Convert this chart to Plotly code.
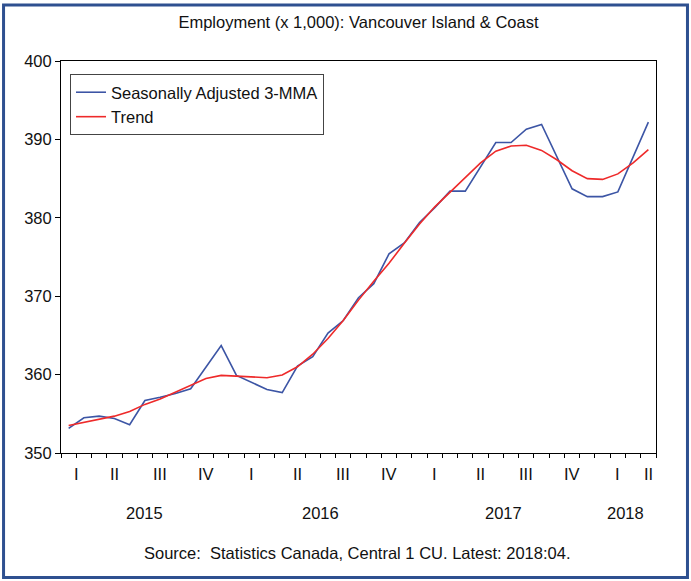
import plotly.graph_objects as go

# ---- data (monthly, 2015:02 .. 2018:04) ----
years = [2015]*11 + [2016]*12 + [2017]*12 + [2018]*4
months = list(range(2, 13)) + list(range(1, 13)) + list(range(1, 13)) + list(range(1, 5))

sa_3mma = [353.15, 354.5, 354.7, 354.4, 353.6, 356.7, 357.1, 357.6, 358.2, 360.9,
           363.7, 359.9, 359.0, 358.1, 357.7, 361.1, 362.3, 365.3, 366.9, 369.8,
           371.6, 375.4, 376.8, 379.4, 381.3, 383.4, 383.4, 386.5, 389.6, 389.6,
           391.3, 391.9, 387.8, 383.7, 382.7, 382.7, 383.3, 387.7, 392.2]
trend = [353.5, 353.9, 354.25, 354.7, 355.3, 356.2, 356.9, 357.8, 358.6, 359.5,
         359.9, 359.8, 359.65, 359.6, 359.95, 361.0, 362.6, 364.6, 366.9, 369.5,
         371.9, 374.2, 376.75, 379.2, 381.4, 383.3, 385.2, 387.0, 388.5, 389.15,
         389.25, 388.6, 387.4, 386.0, 385.0, 384.9, 385.6, 387.0, 388.7]

quarter_names = ["I", "II", "III", "IV"]
title_text = "Employment (x 1,000): Vancouver Island & Coast"
source_text = "Source:  Statistics Canada, Central 1 CU. Latest: 2018:04."
series_names = ["Seasonally Adjusted 3-MMA", "Trend"]

# ---- derived positions ----
idx = list(range(len(months)))
n = len(idx)
FONT = "Liberation Sans, Arial, sans-serif"
FS = 16.5

# major ticks at quarter starts, minor at every month boundary
major = [i - 0.5 for i in idx if months[i] in (1, 4, 7, 10) and i > 0]
minor = [i - 0.5 for i in idx] + [n - 0.5]

quarters = {}
for i in idx:
    key = (years[i], (months[i] - 1) // 3)
    quarters.setdefault(key, []).append(i)
year_pos = {}
for i in idx:
    year_pos.setdefault(years[i], []).append(i)

fig = go.Figure()
fig.add_trace(go.Scatter(x=idx, y=sa_3mma, mode="lines", name=series_names[0],
                         line=dict(color="#3C55A5", width=1.6)))
fig.add_trace(go.Scatter(x=idx, y=trend, mode="lines", name=series_names[1],
                         line=dict(color="#EE2A2A", width=1.6)))

annotations = []
for (yr, q), ms in quarters.items():
    annotations.append(dict(x=sum(ms) / len(ms), y=-0.0255, xref="x", yref="paper",
                            text=quarter_names[q], showarrow=False, yanchor="top",
                            font=dict(size=FS, color="#111", family=FONT)))
for yr, ms in year_pos.items():
    annotations.append(dict(x=sum(ms) / len(ms), y=-0.125, xref="x", yref="paper",
                            text=str(yr), showarrow=False, yanchor="top",
                            font=dict(size=FS, color="#111", family=FONT)))
annotations.append(dict(x=0.497, y=-0.227, xref="paper", yref="paper",
                        text=source_text, showarrow=False, yanchor="top",
                        font=dict(size=FS, color="#111", family=FONT)))

L, R, T, B = 60.5, 35, 61, 128
W, H = 691, 581
pw, ph = W - L - R, H - T - B
def px(xp):
    return (xp - L) / pw
def py(yp):
    return 1 - (yp - T) / ph

shapes = [dict(type="rect", xref="paper", yref="paper",
               x0=px(3), x1=px(687.5), y0=py(5), y1=py(577.5),
               line=dict(color="#2E5090", width=3), layer="below")]

fig.update_layout(
    width=W, height=H,
    margin=dict(l=L, r=R, t=T, b=B),
    paper_bgcolor="white", plot_bgcolor="white",
    title=dict(text=title_text, x=0.5, xref="paper", xanchor="center",
               y=1 - 22 / H, yanchor="middle",
               font=dict(size=FS, color="#111", family=FONT)),
    font=dict(family=FONT, size=FS, color="#111"),
    showlegend=True,
    legend=dict(x=px(69.5), y=py(74), xanchor="left", yanchor="top",
                bgcolor="white", bordercolor="#444", borderwidth=1,
                font=dict(size=FS, color="#111", family=FONT),
                tracegroupgap=0, itemwidth=30),
    xaxis=dict(range=[-0.5, n - 0.5], showgrid=False, zeroline=False,
               showline=True, linecolor="black", linewidth=1, mirror=True,
               tickmode="array", tickvals=major, ticktext=["" for _ in major],
               ticks="outside", ticklen=8, tickcolor="black", tickwidth=1,
               minor=dict(tickmode="array", tickvals=minor, ticks="outside",
                          ticklen=4, tickcolor="black", tickwidth=1, showgrid=False)),
    yaxis=dict(range=[350, 400], dtick=10, showgrid=False, zeroline=False,
               showline=True, linecolor="black", linewidth=1, mirror=True,
               ticks="outside", ticklen=5, tickcolor="black",
               tickfont=dict(size=FS, color="#111", family=FONT)),
    annotations=annotations,
    shapes=shapes,
)

fig.write_html("out.html", config={"displayModeBar": False},
               post_script="document.body.style.margin='0';document.body.style.overflow='hidden';")
